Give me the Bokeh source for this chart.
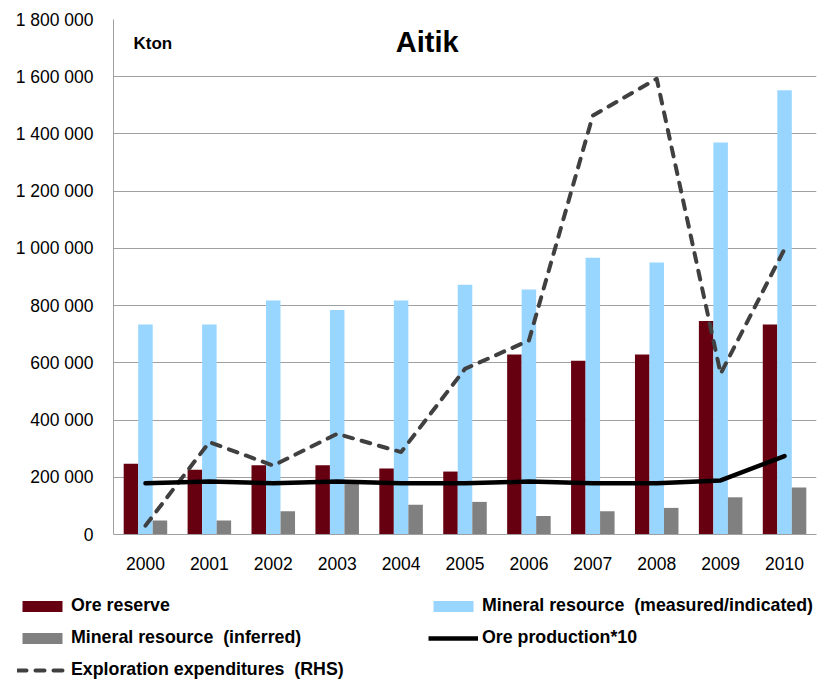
from bokeh.plotting import figure
from bokeh.models import (FactorRange, Range1d, FixedTicker, Legend, LegendItem,
                          Label, ColumnDataSource)
from bokeh.transform import dodge
from bokeh.embed import file_html
from bokeh.resources import INLINE

years = ["2000", "2001", "2002", "2003", "2004", "2005", "2006", "2007", "2008", "2009", "2010"]
ore_reserve = [247000, 226000, 242000, 242000, 231000, 220000, 629000, 607000, 629000, 746000, 734000]
mineral_measured = [734000, 734000, 818000, 785000, 818000, 873000, 856000, 967000, 951000, 1370000, 1553000]
mineral_inferred = [49000, 49000, 81000, 183000, 104000, 114000, 65000, 81000, 93000, 130000, 164000]
ore_production_x10 = [179000, 185000, 179000, 185000, 179000, 179000, 185000, 179000, 179000, 189000, 274000]
exploration_rhs = [31000, 323000, 241000, 352000, 288000, 579000, 678000, 1464000, 1593000, 562000, 998000]

y_ticks = [0, 200000, 400000, 600000, 800000, 1000000, 1200000, 1400000, 1600000, 1800000]
y_tick_labels = ["0", "200 000", "400 000", "600 000", "800 000", "1 000 000",
                 "1 200 000", "1 400 000", "1 600 000", "1 800 000"]

legend_labels = ["Ore reserve", "Mineral resource  (measured/indicated)",
                 "Mineral resource  (inferred)", "Ore production*10",
                 "Exploration expenditures  (RHS)"]

FONT = "Liberation Sans"
RED = "#660011"
BLUE = "#99D6FF"
GRAY = "#808080"
DASH = "#404040"
GRID = "#A0A0A0"

src = ColumnDataSource(dict(year=years, ore=ore_reserve, meas=mineral_measured,
                            inf=mineral_inferred, prod=ore_production_x10,
                            expl=exploration_rhs))

p = figure(width=817, height=581, output_backend="svg", toolbar_location=None,
           x_range=FactorRange(factors=years, range_padding=0),
           y_range=Range1d(0, 1800000),
           min_border_left=113, min_border_right=1, min_border_top=19,
           min_border_bottom=47)
p.outline_line_color = None
p.background_fill_color = "white"

bw = 0.227
p.vbar(x=dodge("year", -bw, range=p.x_range), top="ore", width=bw,
       source=src, color=RED, line_color=None)
p.vbar(x=dodge("year", 0, range=p.x_range), top="meas", width=bw,
       source=src, color=BLUE, line_color=None)
p.vbar(x=dodge("year", bw, range=p.x_range), top="inf", width=bw,
       source=src, color=GRAY, line_color=None)
p.line(x="year", y="expl", source=src, line_color=DASH, line_width=4,
       line_dash="9 9", line_cap="round", line_join="round")
p.line(x="year", y="prod", source=src, line_color="black", line_width=4.5,
       line_join="round", line_cap="round")

# axes
p.yaxis.ticker = FixedTicker(ticks=y_ticks)
p.yaxis.major_label_overrides = {t: l for t, l in zip(y_ticks, y_tick_labels)}
p.yaxis.major_tick_line_color = None
p.yaxis.major_tick_out = 0
p.yaxis.major_tick_in = 0
p.yaxis.minor_tick_line_color = None
p.yaxis.axis_line_color = GRID
p.yaxis.major_label_standoff = 20
p.yaxis.major_label_text_font = FONT
p.yaxis.major_label_text_font_size = "17.5px"
p.yaxis.major_label_text_color = "black"

p.xaxis.major_tick_line_color = None
p.xaxis.major_tick_out = 0
p.xaxis.major_tick_in = 0
p.xaxis.minor_tick_line_color = None
p.xaxis.axis_line_color = GRID
p.xaxis.major_label_standoff = 22
p.xaxis.major_label_text_font = FONT
p.xaxis.major_label_text_font_size = "17.5px"
p.xaxis.major_label_text_color = "black"

p.xgrid.grid_line_color = None
p.ygrid.grid_line_color = GRID
p.ygrid.grid_line_width = 1

# title and unit inside plot
p.add_layout(Label(x=4.91, y=1721000, text="Aitik", text_font=FONT,
                   text_font_size="29px", text_font_style="bold",
                   text_align="center", text_baseline="middle", text_color="black"))
p.add_layout(Label(x=0.313, y=1716000, text="Kton", text_font=FONT,
                   text_font_size="17px", text_font_style="bold",
                   text_align="left", text_baseline="middle", text_color="black"))

# legend strip below the chart, same styles as the series
lg = figure(width=817, height=100, output_backend="svg", toolbar_location=None,
            x_axis_type=None, y_axis_type=None, min_border=0,
            min_border_left=0, min_border_right=0, min_border_top=0, min_border_bottom=0,
            x_range=Range1d(0, 1), y_range=Range1d(0, 1))
lg.outline_line_color = None
lg.grid.visible = False
hidden = ColumnDataSource(dict(x=[-10, -9], y=[-10, -9], top=[-10, -9]))
l_ore = lg.vbar(x="x", top="top", width=0.1, source=hidden, color=RED, line_color=None)
l_meas = lg.vbar(x="x", top="top", width=0.1, source=hidden, color=BLUE, line_color=None)
l_inf = lg.vbar(x="x", top="top", width=0.1, source=hidden, color=GRAY, line_color=None)
l_prod = lg.line(x="x", y="y", source=hidden, line_color="black", line_width=4.5)
l_expl = lg.line(x="x", y="y", source=hidden, line_color=DASH, line_width=4,
                 line_dash="9 9", line_cap="round")
rends = [l_ore, l_meas, l_inf, l_prod, l_expl]

legend = Legend(items=[LegendItem(label=t, renderers=[r]) for t, r in zip(legend_labels, rends)],
                location=(17, 1), orientation="horizontal", ncols=2)
legend.background_fill_alpha = 0
legend.border_line_alpha = 0
legend.label_text_font = FONT
legend.label_text_font_size = "17.8px"
legend.label_text_font_style = "bold"
legend.label_text_color = "black"
legend.label_standoff = 4
legend.glyph_width = 50
legend.glyph_height = 14
legend.label_height = 20
legend.label_width = 346
legend.spacing = 11
legend.padding = 0
legend.margin = 0
lg.add_layout(legend, "center")

open("out.html", "w").write(file_html([p, lg], INLINE))
